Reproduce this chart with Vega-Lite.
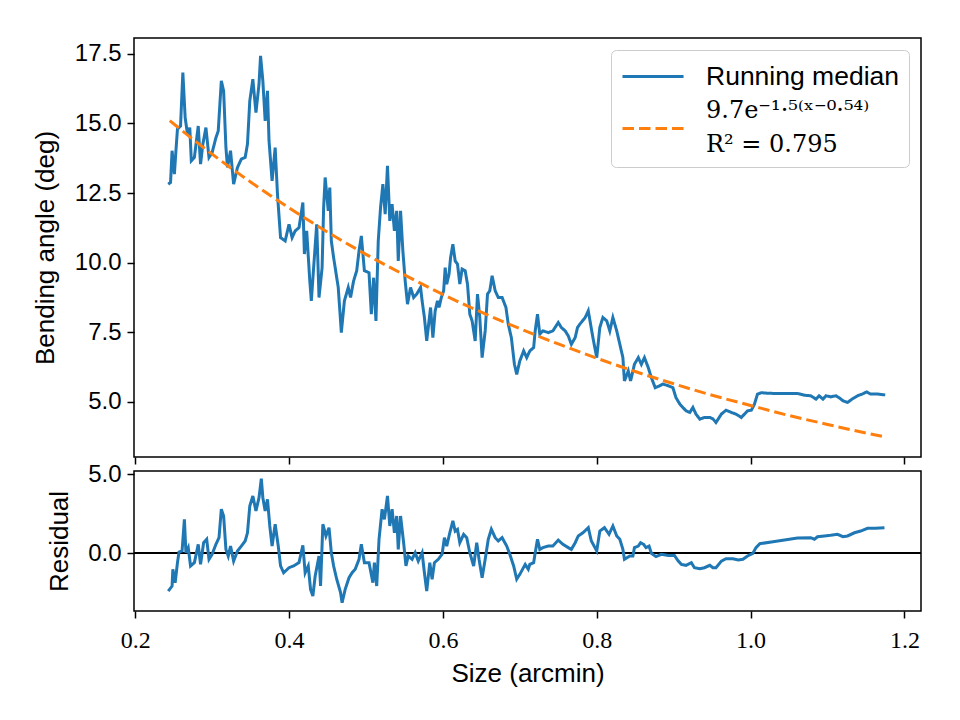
{
  "$schema": "https://vega.github.io/schema/vega-lite/v6.json",
  "background": "white",
  "padding": {"left": 31, "top": 37, "right": 38, "bottom": 30},
  "spacing": 14,
  "bounds": "flush",
  "config": {
    "font": "Liberation Sans",
    "view": {"stroke": "black", "strokeWidth": 1.5},
    "axis": {
      "grid": false, "domain": false,
      "tickColor": "black", "tickSize": 7, "tickWidth": 1.5,
      "labelFont": "Liberation Sans", "labelFontSize": 24, "labelColor": "black", "labelPadding": 6,
      "titleFont": "Liberation Sans", "titleFontSize": 26, "titleFontWeight": "normal", "titleColor": "black"
    }
  },
  "datasets": {
    "median": [
      {"x":0.243,"y":12.82},{"x":0.246,"y":12.88},{"x":0.248,"y":14.02},{"x":0.251,"y":13.18},{"x":0.253,"y":14.02},
      {"x":0.255,"y":14.80},{"x":0.259,"y":14.91},{"x":0.262,"y":16.83},{"x":0.265,"y":15.21},{"x":0.268,"y":14.62},
      {"x":0.271,"y":14.85},{"x":0.273,"y":13.66},{"x":0.277,"y":13.78},{"x":0.282,"y":14.91},{"x":0.285,"y":13.54},
      {"x":0.288,"y":14.26},{"x":0.292,"y":14.85},{"x":0.296,"y":13.78},{"x":0.300,"y":13.95},{"x":0.305,"y":14.49},
      {"x":0.308,"y":14.73},{"x":0.312,"y":16.53},{"x":0.315,"y":16.17},{"x":0.318,"y":14.13},{"x":0.320,"y":13.42},
      {"x":0.324,"y":14.02},{"x":0.328,"y":12.82},{"x":0.333,"y":13.42},{"x":0.338,"y":13.72},{"x":0.343,"y":13.78},
      {"x":0.346,"y":14.26},{"x":0.349,"y":15.81},{"x":0.353,"y":16.59},{"x":0.357,"y":15.39},{"x":0.361,"y":16.41},
      {"x":0.363,"y":17.43},{"x":0.366,"y":16.53},{"x":0.369,"y":15.09},{"x":0.372,"y":16.17},{"x":0.374,"y":14.38},
      {"x":0.378,"y":12.94},{"x":0.382,"y":14.13},{"x":0.385,"y":12.46},{"x":0.389,"y":10.90},{"x":0.395,"y":10.78},
      {"x":0.400,"y":11.38},{"x":0.404,"y":10.90},{"x":0.408,"y":11.14},{"x":0.413,"y":11.26},{"x":0.418,"y":12.16},
      {"x":0.420,"y":10.31},{"x":0.423,"y":11.14},{"x":0.427,"y":9.35},{"x":0.429,"y":8.63},{"x":0.432,"y":9.82},
      {"x":0.436,"y":11.38},{"x":0.439,"y":8.75},{"x":0.443,"y":9.82},{"x":0.445,"y":11.98},{"x":0.447,"y":13.06},
      {"x":0.451,"y":11.86},{"x":0.453,"y":12.70},{"x":0.455,"y":10.78},{"x":0.458,"y":10.18},{"x":0.464,"y":9.11},
      {"x":0.468,"y":7.49},{"x":0.472,"y":8.63},{"x":0.477,"y":9.11},{"x":0.480,"y":8.75},{"x":0.484,"y":9.35},
      {"x":0.488,"y":9.71},{"x":0.491,"y":10.42},{"x":0.494,"y":10.96},{"x":0.498,"y":9.71},{"x":0.504,"y":9.64},
      {"x":0.507,"y":8.15},{"x":0.510,"y":9.46},{"x":0.513,"y":7.91},{"x":0.516,"y":10.78},{"x":0.519,"y":11.98},
      {"x":0.522,"y":12.82},{"x":0.525,"y":11.74},{"x":0.528,"y":13.48},{"x":0.531,"y":11.50},{"x":0.534,"y":12.10},
      {"x":0.537,"y":11.14},{"x":0.540,"y":11.86},{"x":0.542,"y":10.06},{"x":0.545,"y":11.86},{"x":0.548,"y":10.42},
      {"x":0.551,"y":9.35},{"x":0.554,"y":8.51},{"x":0.558,"y":9.11},{"x":0.562,"y":8.75},{"x":0.566,"y":8.87},
      {"x":0.571,"y":9.11},{"x":0.573,"y":8.63},{"x":0.576,"y":8.03},{"x":0.579,"y":7.19},{"x":0.584,"y":8.39},
      {"x":0.587,"y":7.31},{"x":0.590,"y":8.27},{"x":0.593,"y":8.63},{"x":0.595,"y":8.39},{"x":0.598,"y":8.75},
      {"x":0.601,"y":8.99},{"x":0.603,"y":9.82},{"x":0.605,"y":9.23},{"x":0.608,"y":9.59},{"x":0.610,"y":10.18},
      {"x":0.613,"y":10.66},{"x":0.616,"y":10.06},{"x":0.619,"y":9.95},{"x":0.622,"y":9.23},{"x":0.625,"y":9.77},
      {"x":0.629,"y":9.71},{"x":0.632,"y":9.23},{"x":0.635,"y":8.15},{"x":0.638,"y":7.91},{"x":0.642,"y":7.19},
      {"x":0.645,"y":8.87},{"x":0.648,"y":8.03},{"x":0.651,"y":6.59},{"x":0.655,"y":7.55},{"x":0.658,"y":8.87},
      {"x":0.661,"y":8.99},{"x":0.664,"y":9.53},{"x":0.668,"y":8.99},{"x":0.672,"y":8.75},{"x":0.677,"y":8.75},
      {"x":0.682,"y":8.39},{"x":0.685,"y":7.79},{"x":0.689,"y":7.31},{"x":0.693,"y":6.35},{"x":0.696,"y":5.99},
      {"x":0.700,"y":6.47},{"x":0.705,"y":6.83},{"x":0.709,"y":6.59},{"x":0.713,"y":6.83},{"x":0.718,"y":6.95},
      {"x":0.720,"y":7.55},{"x":0.723,"y":8.15},{"x":0.726,"y":7.43},{"x":0.730,"y":7.55},{"x":0.737,"y":7.49},
      {"x":0.743,"y":7.55},{"x":0.750,"y":7.85},{"x":0.754,"y":7.67},{"x":0.759,"y":7.55},{"x":0.763,"y":7.37},
      {"x":0.767,"y":7.07},{"x":0.772,"y":7.31},{"x":0.775,"y":7.67},{"x":0.778,"y":7.79},{"x":0.785,"y":8.03},
      {"x":0.789,"y":8.27},{"x":0.792,"y":7.79},{"x":0.795,"y":7.31},{"x":0.800,"y":6.59},{"x":0.804,"y":7.67},
      {"x":0.808,"y":8.03},{"x":0.813,"y":7.91},{"x":0.817,"y":7.55},{"x":0.821,"y":8.03},{"x":0.826,"y":7.55},
      {"x":0.830,"y":7.07},{"x":0.834,"y":6.59},{"x":0.836,"y":5.75},{"x":0.841,"y":6.11},{"x":0.844,"y":5.75},
      {"x":0.849,"y":6.35},{"x":0.854,"y":6.59},{"x":0.858,"y":6.35},{"x":0.862,"y":6.59},{"x":0.867,"y":6.23},
      {"x":0.871,"y":5.87},{"x":0.876,"y":5.51},{"x":0.882,"y":5.58},{"x":0.886,"y":5.64},{"x":0.893,"y":5.58},
      {"x":0.899,"y":5.51},{"x":0.903,"y":5.15},{"x":0.908,"y":4.92},{"x":0.912,"y":4.80},{"x":0.916,"y":4.68},
      {"x":0.921,"y":4.62},{"x":0.925,"y":4.80},{"x":0.929,"y":4.56},{"x":0.934,"y":4.38},{"x":0.940,"y":4.44},
      {"x":0.947,"y":4.44},{"x":0.951,"y":4.39},{"x":0.955,"y":4.26},{"x":0.962,"y":4.56},{"x":0.968,"y":4.70},
      {"x":0.975,"y":4.62},{"x":0.981,"y":4.56},{"x":0.988,"y":4.44},{"x":0.992,"y":4.56},{"x":0.996,"y":4.68},
      {"x":1.001,"y":4.70},{"x":1.005,"y":4.92},{"x":1.009,"y":5.28},{"x":1.014,"y":5.33},{"x":1.022,"y":5.31},
      {"x":1.035,"y":5.30},{"x":1.048,"y":5.30},{"x":1.061,"y":5.30},{"x":1.070,"y":5.24},{"x":1.078,"y":5.22},
      {"x":1.085,"y":5.10},{"x":1.089,"y":5.22},{"x":1.094,"y":5.10},{"x":1.098,"y":5.22},{"x":1.104,"y":5.18},
      {"x":1.111,"y":5.22},{"x":1.115,"y":5.15},{"x":1.120,"y":5.04},{"x":1.126,"y":4.98},{"x":1.132,"y":5.10},
      {"x":1.139,"y":5.22},{"x":1.145,"y":5.28},{"x":1.151,"y":5.36},{"x":1.156,"y":5.28},{"x":1.165,"y":5.28},
      {"x":1.175,"y":5.25}
    ],
    "fit": [
      {"x":0.245,"y":15.10},{"x":0.30,"y":13.90},{"x":0.35,"y":12.90},{"x":0.40,"y":11.97},{"x":0.45,"y":11.10},
      {"x":0.50,"y":10.30},{"x":0.55,"y":9.56},{"x":0.60,"y":8.86},{"x":0.65,"y":8.22},{"x":0.70,"y":7.63},
      {"x":0.75,"y":7.08},{"x":0.80,"y":6.57},{"x":0.85,"y":6.09},{"x":0.90,"y":5.65},{"x":0.95,"y":5.24},
      {"x":1.00,"y":4.87},{"x":1.05,"y":4.51},{"x":1.10,"y":4.19},{"x":1.15,"y":3.88},{"x":1.175,"y":3.74}
    ],
    "resid": [
      {"x":0.243,"r":-2.41},{"x":0.248,"r":-2.09},{"x":0.249,"r":-1.03},{"x":0.252,"r":-1.88},{"x":0.255,"r":-0.61},
      {"x":0.257,"r":0.06},{"x":0.261,"r":0.13},{"x":0.264,"r":2.13},{"x":0.266,"r":0.02},{"x":0.269,"r":0.34},
      {"x":0.272,"r":-0.82},{"x":0.277,"r":-0.61},{"x":0.282,"r":0.55},{"x":0.285,"r":-0.72},{"x":0.289,"r":0.65},
      {"x":0.293,"r":0.87},{"x":0.296,"r":-0.40},{"x":0.300,"r":-0.08},{"x":0.305,"r":0.55},{"x":0.309,"r":0.97},
      {"x":0.312,"r":2.77},{"x":0.315,"r":2.34},{"x":0.318,"r":0.23},{"x":0.321,"r":-0.19},{"x":0.324,"r":0.44},
      {"x":0.328,"r":-0.51},{"x":0.333,"r":0.13},{"x":0.338,"r":0.44},{"x":0.343,"r":0.76},{"x":0.346,"r":1.28},
      {"x":0.349,"r":2.97},{"x":0.353,"r":3.61},{"x":0.357,"r":2.66},{"x":0.361,"r":3.50},{"x":0.364,"r":4.70},
      {"x":0.366,"r":3.50},{"x":0.369,"r":2.66},{"x":0.372,"r":3.40},{"x":0.375,"r":1.71},{"x":0.378,"r":0.44},
      {"x":0.382,"r":1.82},{"x":0.386,"r":0.44},{"x":0.389,"r":-0.82},{"x":0.393,"r":-1.25},{"x":0.400,"r":-0.93},
      {"x":0.406,"r":-0.82},{"x":0.413,"r":-0.61},{"x":0.418,"r":0.49},{"x":0.421,"r":-1.25},{"x":0.425,"r":-0.82},
      {"x":0.428,"r":-2.30},{"x":0.431,"r":-2.72},{"x":0.434,"r":-1.46},{"x":0.439,"r":-0.19},{"x":0.441,"r":-2.09},
      {"x":0.444,"r":1.82},{"x":0.448,"r":1.08},{"x":0.452,"r":1.60},{"x":0.455,"r":0.02},{"x":0.458,"r":-0.82},
      {"x":0.462,"r":-1.66},{"x":0.467,"r":-2.51},{"x":0.469,"r":-3.15},{"x":0.473,"r":-2.30},{"x":0.478,"r":-1.56},
      {"x":0.482,"r":-1.25},{"x":0.486,"r":-1.03},{"x":0.491,"r":-0.40},{"x":0.494,"r":0.55},{"x":0.498,"r":-0.61},
      {"x":0.504,"r":-0.61},{"x":0.509,"r":-1.88},{"x":0.511,"r":-0.61},{"x":0.514,"r":-2.09},{"x":0.517,"r":0.87},
      {"x":0.521,"r":2.77},{"x":0.524,"r":2.13},{"x":0.528,"r":3.61},{"x":0.531,"r":1.71},{"x":0.534,"r":2.77},
      {"x":0.537,"r":1.28},{"x":0.540,"r":2.34},{"x":0.542,"r":0.23},{"x":0.545,"r":2.34},{"x":0.549,"r":0.65},
      {"x":0.552,"r":-0.82},{"x":0.555,"r":-0.19},{"x":0.560,"r":-0.40},{"x":0.564,"r":0.02},{"x":0.568,"r":-0.51},
      {"x":0.573,"r":0.02},{"x":0.576,"r":-1.25},{"x":0.579,"r":-2.41},{"x":0.583,"r":-0.61},{"x":0.586,"r":-1.66},
      {"x":0.589,"r":-0.61},{"x":0.594,"r":-0.40},{"x":0.599,"r":-0.08},{"x":0.602,"r":0.97},{"x":0.605,"r":0.44},
      {"x":0.609,"r":1.28},{"x":0.613,"r":2.03},{"x":0.616,"r":1.39},{"x":0.619,"r":1.50},{"x":0.622,"r":0.65},
      {"x":0.627,"r":1.18},{"x":0.631,"r":0.97},{"x":0.635,"r":0.02},{"x":0.640,"r":-0.82},{"x":0.644,"r":0.65},
      {"x":0.647,"r":-0.40},{"x":0.651,"r":-1.56},{"x":0.655,"r":-0.40},{"x":0.659,"r":0.87},{"x":0.663,"r":1.50},
      {"x":0.668,"r":0.97},{"x":0.672,"r":0.76},{"x":0.677,"r":0.97},{"x":0.683,"r":0.44},{"x":0.687,"r":-0.08},
      {"x":0.692,"r":-0.82},{"x":0.696,"r":-1.66},{"x":0.700,"r":-1.35},{"x":0.707,"r":-0.72},{"x":0.711,"r":-1.03},
      {"x":0.713,"r":-0.72},{"x":0.718,"r":-0.61},{"x":0.720,"r":0.02},{"x":0.723,"r":0.87},{"x":0.726,"r":0.23},
      {"x":0.730,"r":0.34},{"x":0.737,"r":0.44},{"x":0.743,"r":0.44},{"x":0.750,"r":0.82},{"x":0.756,"r":0.55},
      {"x":0.763,"r":0.34},{"x":0.767,"r":0.23},{"x":0.772,"r":0.65},{"x":0.776,"r":1.08},{"x":0.782,"r":1.28},
      {"x":0.789,"r":1.60},{"x":0.793,"r":0.76},{"x":0.800,"r":0.13},{"x":0.804,"r":1.39},{"x":0.810,"r":1.60},
      {"x":0.816,"r":1.18},{"x":0.821,"r":1.71},{"x":0.826,"r":1.08},{"x":0.830,"r":0.87},{"x":0.834,"r":0.23},
      {"x":0.836,"r":-0.40},{"x":0.843,"r":-0.19},{"x":0.847,"r":-0.19},{"x":0.849,"r":0.34},{"x":0.854,"r":0.44},
      {"x":0.857,"r":0.65},{"x":0.861,"r":0.55},{"x":0.864,"r":0.34},{"x":0.868,"r":0.44},{"x":0.871,"r":-0.02},
      {"x":0.877,"r":-0.23},{"x":0.884,"r":-0.08},{"x":0.893,"r":-0.15},{"x":0.901,"r":-0.15},{"x":0.906,"r":-0.51},
      {"x":0.910,"r":-0.72},{"x":0.916,"r":-0.78},{"x":0.923,"r":-0.61},{"x":0.927,"r":-0.93},{"x":0.934,"r":-0.99},
      {"x":0.940,"r":-0.93},{"x":0.947,"r":-0.78},{"x":0.951,"r":-0.93},{"x":0.955,"r":-0.93},{"x":0.962,"r":-0.51},
      {"x":0.968,"r":-0.36},{"x":0.977,"r":-0.36},{"x":0.984,"r":-0.44},{"x":0.990,"r":-0.40},{"x":0.996,"r":-0.19},
      {"x":1.003,"r":-0.02},{"x":1.007,"r":0.34},{"x":1.012,"r":0.59},{"x":1.027,"r":0.70},{"x":1.044,"r":0.82},
      {"x":1.061,"r":0.95},{"x":1.078,"r":0.97},{"x":1.083,"r":0.87},{"x":1.087,"r":1.03},{"x":1.096,"r":1.08},
      {"x":1.104,"r":1.12},{"x":1.113,"r":1.18},{"x":1.120,"r":1.03},{"x":1.126,"r":1.08},{"x":1.135,"r":1.28},
      {"x":1.143,"r":1.39},{"x":1.152,"r":1.56},{"x":1.162,"r":1.56},{"x":1.174,"r":1.60}
    ]
  },
  "vconcat": [
    {
      "width": 787,
      "height": 419,
      "encoding": {
        "x": {
          "field": "x", "type": "quantitative",
          "scale": {"domain": [0.1985, 1.2215], "nice": false, "zero": false},
          "axis": {"values": [0.2, 0.4, 0.6, 0.8, 1.0, 1.2], "labels": false, "title": null}
        },
        "y": {
          "field": "y", "type": "quantitative",
          "scale": {"domain": [3.02, 18.07], "nice": false, "zero": false},
          "axis": {"values": [5, 7.5, 10, 12.5, 15, 17.5], "format": ".1f", "title": "Bending angle (deg)", "titlePadding": 16}
        },
        "color": {
          "field": "series", "type": "nominal",
          "scale": {"domain": ["median", "fit"], "range": ["#1f77b4", "#ff7f0e"]},
          "legend": {
            "title": null,
            "orient": "top-right",
            "offset": 12,
            "padding": 10,
            "strokeColor": "#cccccc",
            "fillColor": "rgba(255,255,255,0.8)",
            "cornerRadius": 5,
            "gridAlign": "none",
            "symbolType": "M-1,0H3.07",
            "symbolSize": 900,
            "symbolStrokeWidth": 3,
            "labelFontSize": 26.5,
            "labelOffset": 52,
            "labelLimit": 400,
            "rowPadding": 8,
            "labelExpr": "datum.value == 'median' ? 'Running median' : ['9.7e⁻¹·⁵⁽ˣ⁻⁰·⁵⁴⁾', 'R² = 0.795']",
            "encode": {
              "labels": {
                "update": {
                  "font": {"signal": "datum.value == 'median' ? 'Liberation Sans' : 'DejaVu Serif'"},
                  "fontSize": {"signal": "datum.value == 'median' ? 26.5 : 24"},
                  "lineHeight": {"value": 34},
                  "dy": {"signal": "datum.value == 'median' ? 0 : -18"}
                }
              }
            }
          }
        },
        "strokeDash": {
          "field": "series", "type": "nominal",
          "scale": {"domain": ["median", "fit"], "range": [[1, 0], [11.5, 5]]}
        }
      },
      "layer": [
        {
          "data": {"name": "median"},
          "transform": [{"calculate": "'median'", "as": "series"}],
          "mark": {"type": "line", "strokeWidth": 3, "clip": true}
        },
        {
          "data": {"name": "fit"},
          "transform": [{"calculate": "'fit'", "as": "series"}],
          "mark": {"type": "line", "strokeWidth": 3, "clip": true, "interpolate": "monotone"}
        }
      ]
    },
    {
      "width": 787,
      "height": 140,
      "layer": [
        {
          "data": {"values": [{}]},
          "mark": {"type": "rule", "color": "black", "strokeWidth": 2},
          "encoding": {"y": {"datum": 0, "type": "quantitative", "scale": {"domain": [-3.67, 5.19], "nice": false, "zero": false}}}
        },
        {
          "data": {"name": "resid"},
          "mark": {"type": "line", "strokeWidth": 3, "color": "#1f77b4", "clip": true},
          "encoding": {
            "x": {
              "field": "x", "type": "quantitative",
              "scale": {"domain": [0.1985, 1.2215], "nice": false, "zero": false},
              "axis": {"values": [0.2, 0.4, 0.6, 0.8, 1.0, 1.2], "format": ".1f", "labelFont": "Liberation Serif", "title": "Size (arcmin)", "labelPadding": 10, "titlePadding": 8}
            },
            "y": {
              "field": "r", "type": "quantitative",
              "scale": {"domain": [-3.67, 5.19], "nice": false, "zero": false},
              "axis": {"values": [0, 5], "format": ".1f", "title": "Residual", "titlePadding": 15}
            }
          }
        }
      ]
    }
  ]
}
